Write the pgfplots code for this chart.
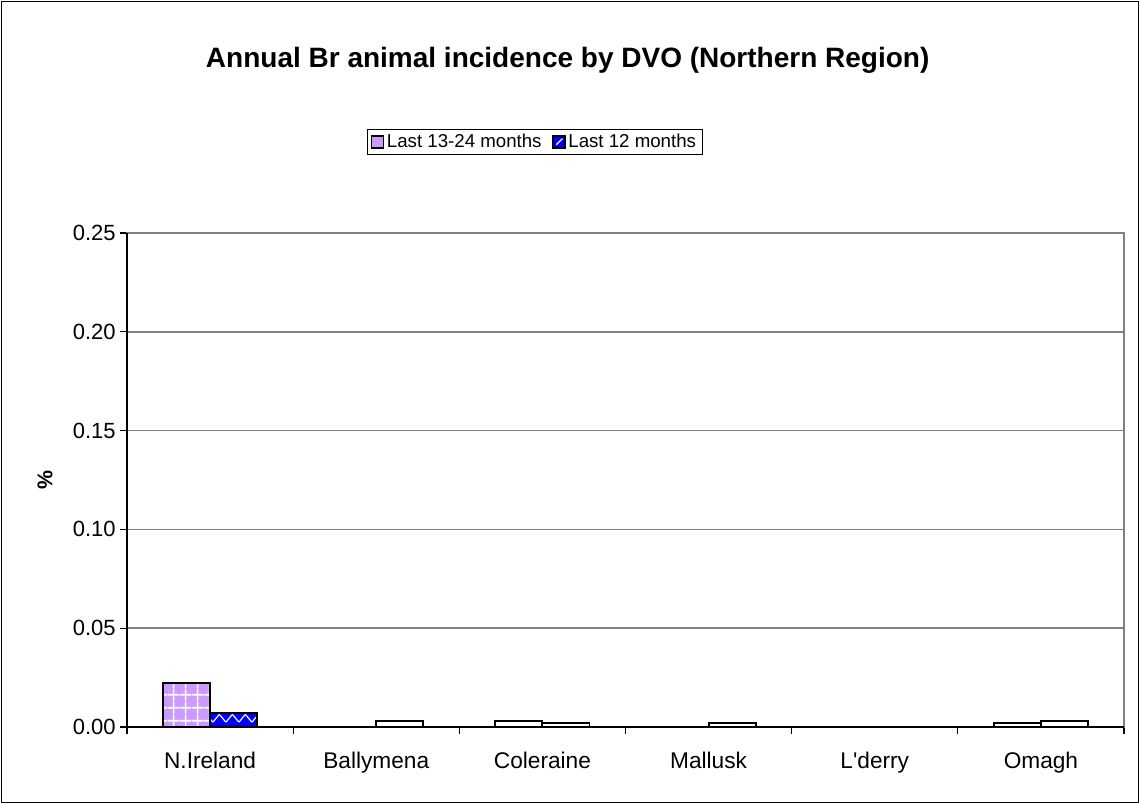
\documentclass[border=0pt]{standalone}
\usepackage{pgfplots}
\pgfplotsset{compat=1.18}
\usepackage{fontspec}
\setmainfont{Liberation Sans}
\usetikzlibrary{patterns.meta}

\definecolor{barviolet}{HTML}{CC99FF}
\definecolor{barblue}{HTML}{0000FF}
\definecolor{gridgray}{HTML}{808080}

% white grid laid over the violet bars
\tikzdeclarepattern{
  name=wgrid,
  type=uncolored,
  bounding box={(0pt,0pt) and (9pt,9.5pt)},
  tile size={(9pt,9.5pt)},
  code={
    \draw[line width=1.3pt] (0pt,4.75pt) -- (9pt,4.75pt) (4.5pt,0pt) -- (4.5pt,9.5pt);
  }
}
% white zigzag laid over the blue bars
\tikzdeclarepattern{
  name=wzigzag,
  type=uncolored,
  bounding box={(0pt,0pt) and (10pt,10pt)},
  tile size={(10pt,10pt)},
  code={
    \draw[line width=0.9pt] (0pt,1.5pt) -- (5pt,7.5pt) -- (10pt,1.5pt);
  }
}

\begin{document}
\begin{tikzpicture}
\path[use as bounding box] (-95.25pt,-57pt) rectangle (759pt,545.25pt);
\begin{axis}[
  at={(0pt,0pt)}, anchor=south west,
  scale only axis, width=747.75pt, height=370.5pt,
  clip=false,
  ybar, bar width=0.283,
  xmin=-0.5, xmax=5.5, ymin=0, ymax=0.25,
  xtick={-0.5,0.5,1.5,2.5,3.5,4.5,5.5},
  x tick label as interval,
  xticklabels={N.Ireland,Ballymena,Coleraine,Mallusk,L\textquotesingle derry,Omagh},
  xticklabel style={font=\fontsize{17}{20}\selectfont, yshift=-10pt},
  ytick={0,0.05,0.1,0.15,0.2,0.25},
  yticklabel style={font=\fontsize{16.5}{20}\selectfont,
    /pgf/number format/.cd, fixed, fixed zerofill, precision=2},
  /pgf/number format/assume math mode=true,
  tick pos=left, tick align=outside, major tick length=5pt,
  tick style={black, line width=0.8pt},
  ymajorgrids, grid style={gridgray, line width=1.1pt},
  axis line style={gridgray, line width=1.1pt},
  title={Annual Br animal incidence by DVO (Northern Region)},
  title style={font=\fontsize{21}{25}\bfseries, at={(axis description cs:0.442,1.333)}, anchor=center},
  ylabel={\%},
  every axis y label/.style={font=\fontsize{16}{19}\bfseries, rotate=90, at={(axis description cs:-0.0822,0.5)}, anchor=center},
  legend columns=2,
  legend style={at={(axis description cs:0.409,1.184)}, anchor=center, draw=black, line width=0.6pt,
    font=\fontsize{14}{17}\selectfont, inner xsep=2.5pt, inner ysep=1.5pt,
    /tikz/every even column/.append style={column sep=6pt}},
]
% national totals: plain fills first, patterns laid over them
\addplot[draw=black, line width=1.4pt, fill=barviolet, bar shift=-0.1415,
  legend image code/.code={\draw[black, line width=1.1pt, fill=barviolet] (0pt,-4.5pt) rectangle (9pt,4.5pt);}]
  coordinates {(0,0.0223)};
\addlegendentry{Last 13-24 months}
\addplot[draw=black, line width=1.4pt, fill=barblue, bar shift=0.1415,
  legend image code/.code={\draw[black, line width=1.1pt, fill=barblue] (0pt,-4.5pt) rectangle (9pt,4.5pt);
    \draw[white, line width=0.9pt] (2.5pt,-2pt) -- (7pt,2.5pt);}]
  coordinates {(0,0.0069)};
\addlegendentry{Last 12 months}
\addplot[draw=black, line width=1.4pt, pattern={wgrid}, pattern color=white, bar shift=-0.1415, forget plot]
  coordinates {(0,0.0223)};
\addplot[draw=black, line width=1.4pt, pattern={wzigzag}, pattern color=white, bar shift=0.1415, forget plot]
  coordinates {(0,0.0069)};
% DVO areas
\addplot[draw=black, line width=1.4pt, fill=white, bar shift=-0.1415, forget plot]
  coordinates {(2,0.0030) (5,0.0022)};
\addplot[draw=black, line width=1.4pt, fill=white, bar shift=0.1415, forget plot]
  coordinates {(1,0.0029) (2,0.0022) (3,0.0020) (5,0.0031)};
% value and category axes in black over the grey plot-area frame
\draw[black, line width=1.3pt] (rel axis cs:0,1) -- (rel axis cs:0,0) -- (rel axis cs:1,0);
\end{axis}
\draw[black, line width=0.7pt] (-94.5pt,-56.25pt) rectangle (758.25pt,544.5pt);
\end{tikzpicture}
\end{document}
